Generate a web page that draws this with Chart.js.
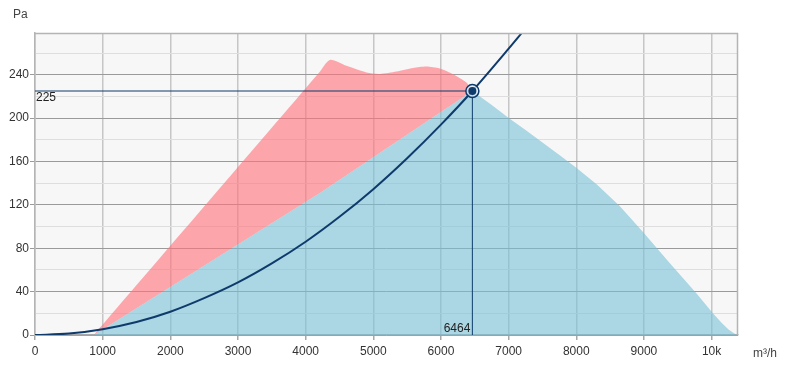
<!DOCTYPE html>
<html><head><meta charset="utf-8">
<script src="https://cdn.jsdelivr.net/npm/chart.js@4/dist/chart.umd.min.js"></script>
<style>html,body{margin:0;padding:0;background:#fff;}canvas{display:block}</style>
</head><body>
<canvas id="c" width="787" height="372"></canvas>
<script>
// Fan curve (operating range upper boundary), m³/h vs Pa
const fanX = [871, 4200, 4357, 4604, 4900, 5096, 5342, 5588, 5785, 5982, 6179, 6376, 6464, 6750, 7016, 7250, 7500, 7750, 8000, 8300, 8641, 8986, 9380, 9774, 10019, 10150, 10250, 10330, 10385];
const fanY = [0, 242, 253.7, 248.2, 242.1, 240.8, 243, 246.3, 247.6, 245.8, 240.5, 232.8, 225, 212, 199.5, 189, 177.5, 166, 154.2, 139, 119, 95, 66.3, 38.6, 20.1, 11, 5, 1.5, 0];
// Lower boundary of the blue (usable) region
const lowerX = [871, 4210, 6464];
const lowerY = [0, 131, 225];
// System curve
const sysX = [0, 500, 1000, 1500, 2000, 2500, 3000, 3500, 4000, 4500, 5000, 5500, 6000, 6464, 7000, 7200];
const sysY = [0, 1.3, 5.4, 12, 21.5, 34, 48.5, 66, 86, 109, 134.5, 163, 194, 225, 264, 279];
// Axis ticks
const xTicks = [0, 1000, 2000, 3000, 4000, 5000, 6000, 7000, 8000, 9000, 10000];
const xTickLabels = ['0', '1000', '2000', '3000', '4000', '5000', '6000', '7000', '8000', '9000', '10k'];
const yTicks = [0, 20, 40, 60, 80, 100, 120, 140, 160, 180, 200, 220, 240, 260];
const yTickLabels = ['0', '', '40', '', '80', '', '120', '', '160', '', '200', '', '240', ''];
// Operating point
const opX = 6464, opY = 225;
const xMax = 10390, yMax = 278.5;

const pts = (xs, ys) => xs.map((v, i) => ({x: v, y: ys[i]}));
const redPts = pts(fanX, fanY).filter(p => p.x <= opX);
const bluePts = pts(lowerX, lowerY).concat(pts(fanX, fanY).filter(p => p.x > opX));

const FONT = '"Liberation Sans", Arial, sans-serif';
const NAVY = '#0e3a6c';

const bgPlugin = {
  id: 'bg',
  beforeDraw(chart) {
    const a = chart.chartArea, ctx = chart.ctx;
    ctx.save(); ctx.fillStyle = '#f7f7f7';
    ctx.fillRect(a.left, a.top, a.right - a.left, a.bottom - a.top);
    ctx.restore();
  },
  afterDraw(chart) {
    const a = chart.chartArea, ctx = chart.ctx, xs = chart.scales.x, ys = chart.scales.y;
    ctx.save();
    ctx.strokeStyle = '#b4b4b4'; ctx.lineWidth = 1.5;
    ctx.beginPath();
    ctx.moveTo(a.left, a.top + 0.5); ctx.lineTo(a.right, a.top + 0.5);
    ctx.moveTo(a.right - 0.5, a.top); ctx.lineTo(a.right - 0.5, a.bottom);
    ctx.stroke();
    ctx.font = '12px ' + FONT;
    ctx.fillStyle = '#222';
    ctx.textAlign = 'left'; ctx.textBaseline = 'top';
    ctx.fillText(String(opY), a.left + 1, ys.getPixelForValue(opY) + 1);
    ctx.textAlign = 'right'; ctx.textBaseline = 'bottom';
    ctx.fillText(String(opX), xs.getPixelForValue(opX) - 2, a.bottom);
    ctx.fillStyle = '#444';
    ctx.textAlign = 'left'; ctx.textBaseline = 'alphabetic';
    ctx.fillText('Pa', 13, 18);
    ctx.fillText('m³/h', 753, 357);
    ctx.restore();
  }
};

new Chart(document.getElementById('c'), {
  type: 'scatter',
  data: {
    datasets: [
      { // 0 red fan range
        data: redPts, showLine: true, borderWidth: 0, pointRadius: 0, tension: 0.25,
        backgroundColor: 'rgba(255,116,124,0.62)', borderColor: 'rgba(0,0,0,0)',
        fill: {target: 1}, order: 6
      },
      { // 1 blue usable range
        data: bluePts, showLine: true, borderWidth: 0, pointRadius: 0, tension: 0,
        backgroundColor: 'rgba(120,192,214,0.6)', borderColor: 'rgba(0,0,0,0)',
        fill: 'origin', order: 5
      },
      { // system curve
        data: pts(sysX, sysY), showLine: true, borderWidth: 2, pointRadius: 0,
        borderColor: NAVY, cubicInterpolationMode: 'monotone', fill: false, order: 3
      },
      { // horizontal crosshair
        data: [{x: 0, y: opY}, {x: opX, y: opY}], showLine: true, borderWidth: 1,
        pointRadius: 0, borderColor: NAVY, fill: false, order: 4
      },
      { // vertical crosshair
        data: [{x: opX, y: 0}, {x: opX, y: opY}], showLine: true, borderWidth: 1,
        pointRadius: 0, borderColor: NAVY, fill: false, order: 4
      },
      { // marker ring
        data: [{x: opX, y: opY}], pointRadius: 6.5, pointBorderWidth: 1.5,
        pointBackgroundColor: 'rgba(220,235,245,0.8)', pointBorderColor: NAVY, order: 2
      },
      { // marker dot
        data: [{x: opX, y: opY}], pointRadius: 4, pointBorderWidth: 0,
        pointBackgroundColor: NAVY, pointBorderColor: NAVY, order: 1
      }
    ]
  },
  options: {
    responsive: false, animation: false, devicePixelRatio: 1,
    layout: {padding: {left: 0, top: 33, right: 49, bottom: 0}},
    plugins: {legend: {display: false}, tooltip: {enabled: false}},
    elements: {line: {borderJoinStyle: 'round'}},
    scales: {
      x: {
        type: 'linear', min: 0, max: xMax,
        afterFit: s => { s.height = 37; },
        afterBuildTicks: s => { s.ticks = xTicks.map(v => ({value: v})); },
        border: {display: true, color: '#a8a8a8', width: 1.5},
        grid: {color: '#c6c6c6', lineWidth: 1.5, tickLength: 5, tickColor: '#a8a8a8'},
        ticks: {padding: 4, color: '#333', autoSkip: false,
          font: {family: FONT, size: 12}, maxRotation: 0,
          callback: (v, i) => xTickLabels[xTicks.indexOf(v)] ?? ''}
      },
      y: {
        type: 'linear', min: 0, max: yMax,
        afterFit: s => { s.width = 35; },
        afterBuildTicks: s => { s.ticks = yTicks.map(v => ({value: v})); },
        border: {display: true, color: '#b4b4b4', width: 1.5},
        grid: {
          color: c => (c.tick && yTickLabels[yTicks.indexOf(c.tick.value)]) ? '#9a9a9a' : '#dedede',
          tickColor: c => (c.tick && yTickLabels[yTicks.indexOf(c.tick.value)]) ? '#9a9a9a' : 'rgba(0,0,0,0)',
          lineWidth: 1, tickLength: 5
        },
        ticks: {padding: 1, color: '#333', autoSkip: false,
          font: {family: FONT, size: 12},
          callback: v => yTickLabels[yTicks.indexOf(v)] ?? ''}
      }
    }
  },
  plugins: [bgPlugin]
});
</script>
</body></html>
